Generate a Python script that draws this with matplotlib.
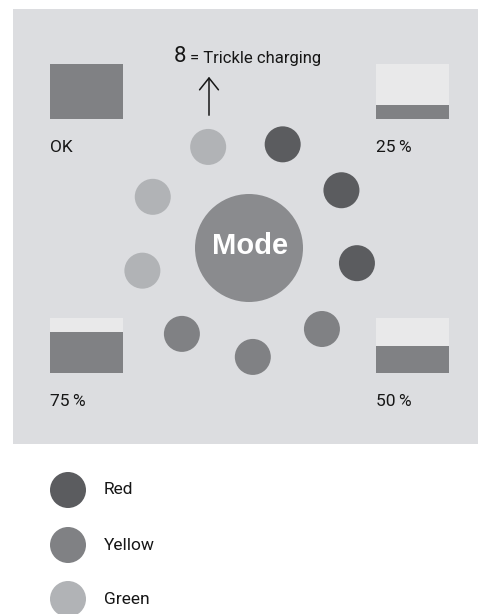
import matplotlib
matplotlib.use("Agg")
import matplotlib.pyplot as plt
from matplotlib.patches import Circle, Rectangle, FancyArrowPatch
import numpy as np

plt.rcParams['font.family'] = ['Roboto', 'DejaVu Sans']

# ---- data ----
led_states = ["Green", "Red", "Red", "Red", "Yellow", "Yellow", "Yellow", "Green", "Green"]
led_angles_deg = [112, 72, 32, -8, -48, -88, -128, -168, 152]
battery_labels = ["OK", "25\u2009%", "75\u2009%", "50\u2009%"]
battery_levels = [1.00, 0.25, 0.75, 0.50]
legend_labels = ["Red", "Yellow", "Green"]
center_label = "Mode"
trickle_number = "8"
trickle_text = "= Trickle charging"

colors = {"Red": "#5b5c5f", "Yellow": "#808184", "Green": "#b1b3b6"}
panel_color = "#dcdde0"
empty_color = "#e9e9ea"
mode_color = "#8a8b8e"
text_color = "#161616"

W, H = 478, 614
fig = plt.figure(figsize=(W / 100, H / 100), dpi=100)
ax = fig.add_axes([0, 0, 1, 1])
ax.set_xlim(0, W)
ax.set_ylim(H, 0)
ax.set_aspect('equal')
ax.axis('off')

# panel
ax.add_patch(Rectangle((13, 9), W - 13, 435, facecolor=panel_color, edgecolor='none'))

# center button
cx, cy, ring_r = 249, 248, 109
ax.add_patch(Circle((cx, cy), 54, facecolor=mode_color, edgecolor='none'))
ax.text(cx + 1, cy - 2, center_label, ha='center', va='center', color='white',
        fontsize=21, fontweight='bold', family=['Liberation Sans', 'DejaVu Sans'])

# LED ring
for state, ang in zip(led_states, led_angles_deg):
    a = np.deg2rad(ang)
    x = cx + ring_r * np.cos(a)
    y = cy - ring_r * np.sin(a)
    ax.add_patch(Circle((x, y), 18, facecolor=colors[state], edgecolor='none'))

# batteries
box_pos = [(50, 64), (376, 64), (50, 318), (376, 318)]
bw, bh = 73, 55
for (bx, by), lab, lev in zip(box_pos, battery_labels, battery_levels):
    ax.add_patch(Rectangle((bx, by), bw, bh, facecolor=empty_color, edgecolor='none'))
    fh = bh * lev
    ax.add_patch(Rectangle((bx, by + bh - fh), bw, fh, facecolor=colors["Yellow"], edgecolor='none'))
    ax.text(bx, by + bh + 28, lab, ha='left', va='center', fontsize=12.5, color=text_color)

# trickle annotation
ax.text(174, 57, trickle_number, ha='left', va='center', fontsize=16, color=text_color)
ax.text(190, 58, trickle_text, ha='left', va='center', fontsize=12, color=text_color)
arr = FancyArrowPatch((209, 118), (209, 74), arrowstyle='->,head_length=5,head_width=4',
                      mutation_scale=1.7, color=text_color, lw=1.1)
ax.add_patch(arr)

# legend
leg_y = [490, 545, 599]
for lab, y in zip(legend_labels, leg_y):
    ax.add_patch(Circle((68, y), 18, facecolor=colors[lab], edgecolor='none'))
    ax.text(104, y, lab, ha='left', va='center', fontsize=12.5, color=text_color)

fig.savefig("out.png", dpi=100)
